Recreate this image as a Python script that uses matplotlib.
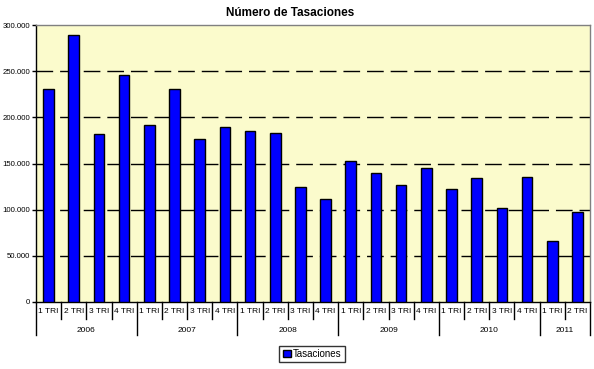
import matplotlib
matplotlib.use("Agg")
import matplotlib.pyplot as plt
from matplotlib.transforms import blended_transform_factory
from matplotlib.patches import Patch

plt.rcParams['font.family'] = ['Liberation Sans', 'DejaVu Sans']

years = ["2006", "2007", "2008", "2009", "2010", "2011"]
quarters_per_year = [4, 4, 4, 4, 4, 2]
quarter_labels = ["1 TRI", "2 TRI", "3 TRI", "4 TRI"]
tasaciones = [231000, 289000, 182000, 246000,
              192000, 231000, 177000, 190000,
              185000, 183000, 125000, 112000,
              152500, 140000, 127000, 145000,
              122500, 134500, 102000, 135500,
              66000, 98000]
yticks = [0, 50000, 100000, 150000, 200000, 250000, 300000]

W, H = 594, 369
fig = plt.figure(figsize=(W / 100, H / 100), dpi=100)
fig.patch.set_facecolor("white")
L, R, T, B = 36, 590, 25, 302
ax = fig.add_axes([L / W, 1 - B / H, (R - L) / W, (B - T) / H])
ax.set_facecolor("#FBFBCC")

n = len(tasaciones)
x = list(range(n))
ax.bar(x, tasaciones, width=0.42, color="#0000FF", edgecolor="black",
       linewidth=1.0, zorder=3, label="Tasaciones")
ax.set_xlim(-0.5, n - 0.5)
ax.set_ylim(0, 300000)

for v in yticks[1:-1]:
    ax.axhline(v, color="black", linewidth=1.0, dashes=(12, 5), zorder=1)

ax.set_yticks(yticks)
ax.set_yticklabels([f"{v:,.0f}".replace(",", ".") for v in yticks], fontsize=5.6)
ax.tick_params(axis="y", length=3, width=1, direction="out", pad=1.2, colors="black")
ax.set_xticks([])

for s in ["left", "bottom"]:
    ax.spines[s].set_color("black")
    ax.spines[s].set_linewidth(1.0)
for s in ["top", "right"]:
    ax.spines[s].set_color("#808080")
    ax.spines[s].set_linewidth(1.0)

trans = blended_transform_factory(ax.transData, ax.transAxes)
ph = B - T
q_row = -16.5 / ph
y_row = -33 / ph
q_lab = -9.5 / ph
y_lab = -29 / ph

# category separators and labels
idx = 0
for yr, nq in zip(years, quarters_per_year):
    start = idx
    ax.plot([start - 0.5, start - 0.5], [0, y_row], transform=trans,
            color="black", linewidth=1.0, clip_on=False)
    for q in range(nq):
        if q > 0:
            ax.plot([idx - 0.5, idx - 0.5], [0, q_row], transform=trans,
                    color="black", linewidth=1.0, clip_on=False)
        ax.text(idx, q_lab, quarter_labels[q], transform=trans, ha="center",
                va="center", fontsize=6)
        idx += 1
    ax.text((start + idx - 1) / 2, y_lab, yr, transform=trans, ha="center",
            va="center", fontsize=6)
ax.plot([idx - 0.5, idx - 0.5], [0, y_row], transform=trans,
        color="black", linewidth=1.0, clip_on=False)

fig.text(290 / W, 1 - 13 / H, "Número de Tasaciones", ha="center", va="center",
         fontsize=8.5, fontweight="bold")

leg = fig.legend(handles=[Patch(facecolor="#0000FF", edgecolor="black", label="Tasaciones")],
                 loc="center", bbox_to_anchor=(312 / W, 1 - 354 / H), fontsize=7,
                 frameon=True, fancybox=False, edgecolor="black", handlelength=0.8,
                 handleheight=0.8, handletextpad=0.2, borderpad=0.35, borderaxespad=0)
leg.get_frame().set_linewidth(1.0)

fig.savefig("out.png", dpi=100)
